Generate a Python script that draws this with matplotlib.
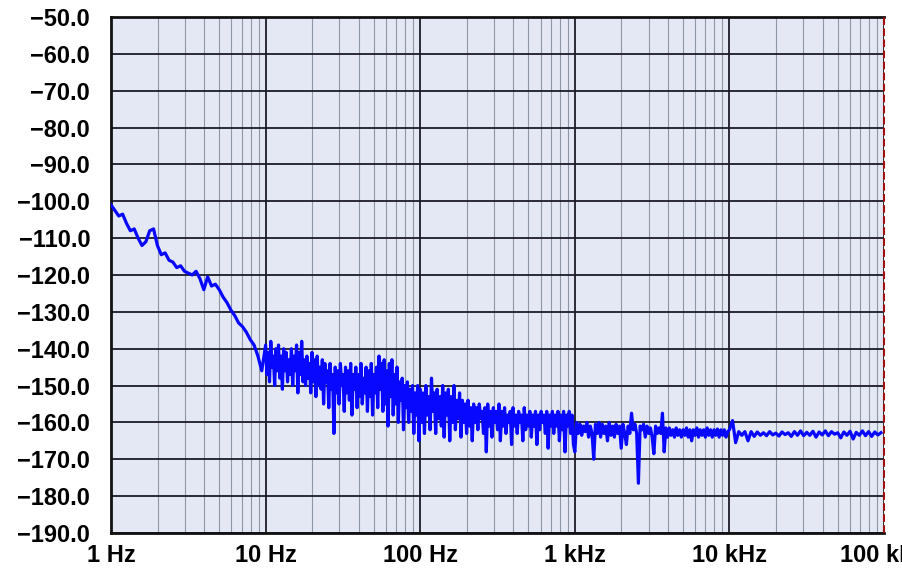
import numpy as np
import matplotlib
matplotlib.use('Agg')
import matplotlib.pyplot as plt
from matplotlib.ticker import FixedLocator, LogLocator, NullFormatter

# phase noise trace, one list of dBc/Hz values per decade (log spaced sweep)
dec_1_10 = [-101, -102.5, -104, -103.5, -106, -108, -107.5, -110, -112, -111,
            -108, -107.5, -112, -114.5, -114, -116, -116.5, -118, -117.5, -119,
            -119.5, -120, -119, -121, -124, -120.5, -123, -122.5, -124, -126,
            -127.5, -129.5, -131, -133, -134, -135.5, -137.5, -139, -142, -146]
dec_10_100 = [-139, -147, -141, -149, -138, -145, -142, -150, -140, -146,
              -139, -148, -142, -151, -140, -146, -141, -149, -143, -147,
              -140, -150, -142, -146, -139, -152, -141, -147, -138, -149,
              -143, -150, -142, -148, -144, -152, -141, -149, -143, -153,
              -142, -150, -145, -151, -143, -155, -144, -149, -146, -156,
              -144, -151, -147, -163, -145, -152, -146, -155, -144, -150,
              -147, -157, -145, -152, -146, -154, -144, -158, -147, -151,
              -145, -156, -147, -153, -144, -155, -148, -152, -145, -157,
              -146, -153, -144, -158, -147, -152, -145, -156, -142, -151,
              -144, -157, -143, -155, -146, -161, -144, -153, -143, -158,
              -147, -155, -145, -160, -149, -154, -148, -162, -150, -156,
              -149, -160, -151, -157, -150, -163, -152, -158, -150, -165]
dec_100_1k = [-151, -160, -152, -163, -150, -158, -153, -162, -148, -157,
              -152, -163, -151, -159, -153, -161, -150, -164, -152, -158,
              -151, -165, -153, -160, -150, -162, -154, -159, -152, -164,
              -154, -160, -155, -163, -154, -161, -156, -165, -155, -160,
              -156, -162, -155, -159, -157, -163, -156, -168, -155, -161,
              -157, -164, -156, -160, -157, -162, -155, -165, -157, -161,
              -156, -163, -158, -160, -157, -166, -156, -161, -158, -163,
              -157, -160, -158, -165, -156, -162, -158, -161, -157, -164,
              -158, -161, -157, -166, -158, -162, -157, -160, -158, -163,
              -157, -167, -158, -161, -157, -163, -158, -161, -157, -165,
              -158, -162, -157, -168, -158, -161, -157, -163, -158, -166]
dec_1k_10k = [-168, -160, -163, -160.5, -163.5, -161, -162.5, -160, -164, -161,
              -163, -170, -160.5, -163, -160, -164, -160.5, -163, -161, -165,
              -160, -163.5, -161, -164, -160.5, -163, -161, -167, -160.5, -163,
              -166, -161, -163, -157.5, -162, -160.5, -163, -176.5, -161, -162,
              -160.5, -164, -161, -163, -161.5, -164, -168.5, -161, -163, -161.5,
              -163, -157.5, -168, -161.5, -164, -161.5, -163.5, -162, -164, -161.5,
              -163.5, -162, -164, -162, -163.5, -161.5, -164, -162, -165, -162,
              -163.5, -161.5, -164, -162, -163.5, -162, -164, -161.5, -163.5, -162,
              -164, -162, -163.5, -161.8, -164, -162, -163.5, -162, -164, -162.5]
dec_10k_100k = [-162, -159.5, -165.5, -162.5, -163.5, -162.5, -165, -162.5, -163.8, -162.6,
                -163.5, -162.8, -163.6, -162.5, -163.4, -162.9, -163.7, -162.6, -163.3, -162.8,
                -163.8, -162.5, -163.5, -162.3, -163.6, -162.7, -163.5, -162.4, -164, -162.6,
                -163.4, -162.3, -163.6, -162.5, -163.2, -162.8, -164.2, -162.6, -163.5, -162.4,
                -164.5, -162.7, -163.5, -162.3, -163.6, -162.5, -163.8, -162.6, -163.4, -162.8]
decades = [dec_1_10, dec_10_100, dec_100_1k, dec_1k_10k, dec_10k_100k]

y_ticks = [-50, -60, -70, -80, -90, -100, -110, -120, -130, -140, -150, -160, -170, -180, -190]
x_ticks = [1, 10, 100, 1e3, 1e4, 1e5]
x_labels = ['1 Hz', '10 Hz', '100 Hz', '1 kHz', '10 kHz', '100 kHz']

freq = []
noise = []
for d, vals in enumerate(decades):
    freq.extend(np.logspace(d, d + 1, len(vals), endpoint=False))
    noise.extend(vals)

fig = plt.figure(figsize=(9.02, 5.76), dpi=100)
ax = fig.add_axes([0.1231, 0.0747, 0.8570, 0.8958])
ax.set_facecolor('#e4e8f5')

ax.plot(freq, noise, color='#0808ff', lw=2.3, zorder=3)

ax.set_xscale('log')
ax.set_xlim(1, 1e5)
ax.set_ylim(-190, -50)
ax.xaxis.set_major_locator(FixedLocator(x_ticks))
ax.set_xticklabels(x_labels)
ax.xaxis.set_minor_locator(LogLocator(base=10, subs=np.arange(2, 10)))
ax.xaxis.set_minor_formatter(NullFormatter())
ax.set_yticks(y_ticks)
ax.set_yticklabels([('\u2212%.1f' % abs(v)) for v in y_ticks])

ax.grid(which='major', color='#1c1c28', lw=1.3, zorder=1)
ax.grid(which='minor', axis='x', color='#8d97a8', lw=0.8, zorder=1)
ax.set_axisbelow(True)

for lab in ax.get_xticklabels() + ax.get_yticklabels():
    lab.set_family('Liberation Sans')
    lab.set_fontweight('bold')
    lab.set_fontsize(17)
ax.tick_params(which='both', length=0)
ax.tick_params(axis='y', pad=15)
ax.tick_params(axis='x', pad=8)

for s in ['left', 'bottom', 'top']:
    ax.spines[s].set_linewidth(2)
    ax.spines[s].set_color('#111111')
ax.spines['right'].set_visible(False)
ax.axvline(1e5, color='#a01010', lw=1.5, ls='--', zorder=4, clip_on=False)

plt.savefig('out.png', dpi=100)
